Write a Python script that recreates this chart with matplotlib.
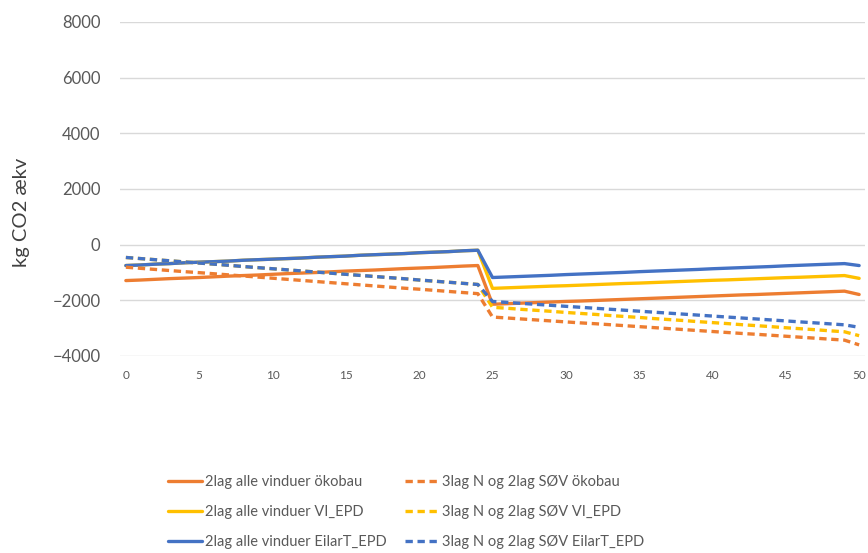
import matplotlib
matplotlib.use("Agg")
import matplotlib.pyplot as plt

plt.rcParams['font.family'] = ['Lato', 'DejaVu Sans']

years = list(range(0, 51))

orange_solid = [-1290, -1270, -1245, -1220, -1200, -1180, -1155, -1130, -1110, -1090,
                -1065, -1040, -1020, -1000, -975, -950, -930, -910, -885, -860,
                -840, -820, -795, -770, -750,
                -2140, -2120, -2100, -2080, -2060, -2040, -2025, -2005, -1985, -1965,
                -1945, -1925, -1905, -1885, -1865, -1845, -1825, -1805, -1790, -1770,
                -1750, -1730, -1710, -1690, -1670, -1790]
orange_dashed = [-810, -850, -890, -930, -970, -1005, -1045, -1085, -1125, -1165,
                 -1205, -1245, -1285, -1325, -1365, -1405, -1445, -1485, -1525, -1565,
                 -1600, -1640, -1680, -1720, -1760,
                 -2600, -2635, -2670, -2705, -2740, -2775, -2810, -2840, -2875, -2910,
                 -2945, -2980, -3015, -3050, -3085, -3120, -3155, -3190, -3220, -3255,
                 -3290, -3325, -3360, -3395, -3430, -3600]
yellow_solid = [-750, -730, -700, -680, -650, -630, -610, -590, -560, -540,
                -520, -500, -480, -450, -430, -410, -380, -360, -340, -320,
                -290, -270, -250, -220, -200,
                -1570, -1550, -1530, -1510, -1490, -1475, -1455, -1435, -1415, -1395,
                -1380, -1360, -1340, -1320, -1300, -1280, -1265, -1245, -1225, -1205,
                -1185, -1170, -1150, -1130, -1110, -1210]
yellow_dashed = [-460, -500, -540, -580, -620, -660, -700, -740, -785, -825,
                 -865, -905, -945, -985, -1025, -1065, -1105, -1145, -1185, -1225,
                 -1270, -1310, -1350, -1390, -1430,
                 -2250, -2285, -2325, -2360, -2395, -2435, -2470, -2505, -2545, -2580,
                 -2615, -2655, -2690, -2725, -2765, -2800, -2835, -2875, -2910, -2945,
                 -2985, -3020, -3055, -3095, -3130, -3270]
blue_solid = [-750, -730, -700, -680, -650, -630, -610, -590, -560, -540,
              -520, -500, -480, -450, -430, -410, -380, -360, -340, -320,
              -290, -270, -250, -220, -200,
              -1180, -1160, -1140, -1120, -1100, -1075, -1055, -1035, -1015, -995,
              -970, -950, -930, -910, -890, -865, -845, -825, -805, -785,
              -760, -740, -720, -700, -680, -750]
blue_dashed = [-460, -500, -540, -580, -620, -660, -700, -740, -785, -825,
               -865, -905, -945, -985, -1025, -1065, -1105, -1145, -1185, -1225,
               -1270, -1310, -1350, -1390, -1430,
               -2040, -2075, -2110, -2145, -2180, -2215, -2250, -2285, -2320, -2355,
               -2390, -2425, -2460, -2495, -2530, -2565, -2600, -2635, -2670, -2705,
               -2740, -2775, -2810, -2845, -2880, -2970]

labels_solid = ["2lag alle vinduer ökobau", "2lag alle vinduer VI_EPD", "2lag alle vinduer EilarT_EPD"]
labels_dashed = ["3lag N og 2lag SØV ökobau", "3lag N og 2lag SØV VI_EPD", "3lag N og 2lag SØV EilarT_EPD"]
colors = ["#ED7D31", "#FFC000", "#4472C4"]

y_ticks = [-4000, -2000, 0, 2000, 4000, 6000, 8000]
x_ticks = list(range(0, 51, 5))

fig = plt.figure(figsize=(8.68, 5.53), dpi=100)
ax = fig.add_axes([120/868, 1-356/553, (865-120)/868, (356-22)/553])

solids = [orange_solid, yellow_solid, blue_solid]
dasheds = [orange_dashed, yellow_dashed, blue_dashed]

handles_s = []
handles_d = []
for ys, lab, c in zip(solids, labels_solid, colors):
    h, = ax.plot(years, ys, color=c, lw=2.4, solid_capstyle='round', label=lab)
    handles_s.append(h)
for ys, lab, c in zip(dasheds, labels_dashed, colors):
    h, = ax.plot(years, ys, color=c, lw=2.4, ls=(0, (2.2, 1.4)), label=lab)
    handles_d.append(h)

ax.set_xlim(-0.4, 50.4)
ax.set_ylim(-4000, 8000)
ax.set_yticks(y_ticks)
ax.set_xticks(x_ticks)
ax.grid(axis='y', color='#D9D9D9', lw=1)
ax.set_axisbelow(True)
for s in ax.spines.values():
    s.set_visible(False)
ax.tick_params(axis='both', length=0, colors='#595959')
ax.tick_params(axis='y', labelsize=12, pad=14)
ax.tick_params(axis='x', labelsize=8.5, pad=10)

fig.text(22/868, 1-212/553, "kg CO2 ækv", rotation=90, ha='center', va='center',
         fontsize=14.5, color='#404040')

leg = fig.legend(handles_s + handles_d, labels_solid + labels_dashed, ncol=2,
                 loc='center', bbox_to_anchor=(406/868, 1-512/553), frameon=False,
                 fontsize=10.5, labelcolor='#595959', handlelength=2.3,
                 handletextpad=0.2, columnspacing=1.3, labelspacing=1.1)

fig.savefig("out.png", dpi=100)
